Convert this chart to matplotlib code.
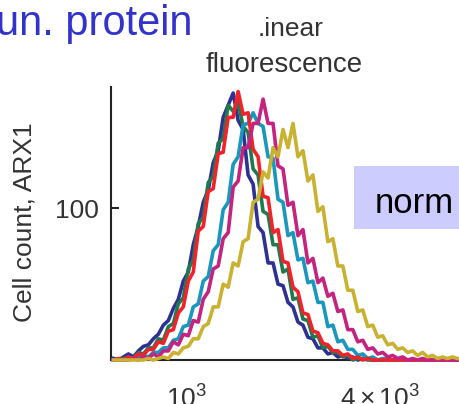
import numpy as np
import matplotlib
matplotlib.use("Agg")
import matplotlib.pyplot as plt
from matplotlib.patches import Rectangle

# ---- data ----
x_lo, x_hi = 580, 7100          # fluorescence range of the histogram bins
n_bins = 70
blue = [1,0,2,4,2,6,9,10,14,17, 23,26,34,40,52,58,76,88,104,112,
        130,138,160,168,176,158,152,122,116,88, 84,64,64,50,49,38,35,25,23,15,
        14,8,8,4,5,2,3,1,2,0, 1,1,0,0,0,1,0,0,0,0, 0,0,0,0,0,0,0,0,0,0]
green = [0,0,1,2,1,5,4,8,8,14, 13,22,24,37,41,60,66,90,94,117,
         121,143,146,168,164,170,154,150,126,122, 98,96,76,76,58,60,40,41,27,26,
         15,16,8,9,5,5,2,3,0,1, 1,0,0,0,0,0,0,0,0,0, 0,0,0,0,0,0,0,0,0,0]
red = [0,1,0,2,1,4,3,7,7,12, 11,19,20,31,35,52,58,85,88,111,
       113,136,137,160,160,177,162,163,139,134, 108,107,84,86,65,64,48,45,31,30,
       19,18,11,10,6,6,3,4,1,2, 0,1,0,0,0,0,0,0,0,0, 0,0,0,0,0,0,0,0,0,0]
teal = [0,0,0,1,1,2,3,2,5,5, 8,8,13,14,22,23,35,37,52,55,
        72,76,99,104,129,134,155,156,163,156, 154,134,133,106,104,82,84,66,67,51,
        52,38,38,22,23,12,13,7,7,3, 4,1,2,0,1,0,0,0,0,0, 0,0,0,0,0,0,0,0,0,0]
magenta = [0,0,0,0,1,0,2,1,4,2, 6,6,12,10,17,16,26,25,40,45,
           60,62,80,84,114,118,140,140,156,156, 172,156,156,128,126,102,104,82,86,64,
           67,51,54,42,44,32,33,20,20,12, 13,7,8,4,5,2,3,1,2,0, 1,0,1,0,0,0,0,0,0,0]
gold = [0,0,0,0,0,0,0,1,0,1, 2,1,5,4,8,9,14,14,22,24,
        35,35,50,48,64,62,78,80,104,106, 124,120,140,134,152,140,156,134,138,118,
        122,98,101,78,80,62,62,46,46,32, 33,22,23,15,16,10,11,7,8,5, 6,3,5,2,3,1,2,1,2,1]
series = [("#2e3192", blue), ("#1f7a4e", green), ("#1a97bd", teal), ("#f2222b", red),
          ("#c4237f", magenta), ("#c9b232", gold)]
y_ticks = [100]
x_ticks = [1000, 4000]
x_ticklabels = [r"$10^3$", r"$4\times10^3$"]

plt.rcParams["mathtext.fontset"] = "custom"
plt.rcParams["mathtext.rm"] = "Liberation Sans"
plt.rcParams["mathtext.it"] = "Liberation Sans"
plt.rcParams["font.family"] = ["Liberation Sans", "DejaVu Sans"]

W, H = 460, 404
fig = plt.figure(figsize=(W / 100, H / 100), dpi=100)

def fx(px):
    return px / W

def fy(py):
    return 1 - py / H

ax = fig.add_axes([fx(111), fy(360), (460 - 111) / W, (360 - 87) / H])
edges = np.geomspace(x_lo, x_hi, n_bins + 1)
centers = np.sqrt(edges[:-1] * edges[1:])
for col, vals in series:
    ax.plot(centers, vals, color=col, lw=2.6, zorder=3, clip_on=False)

ax.set_xscale("log")
ax.set_xlim(x_lo, x_hi)
ax.set_ylim(0, 180)
ax.set_yticks(y_ticks)
ax.set_yticklabels([str(v) for v in y_ticks])
ax.set_xticks(x_ticks)
ax.set_xticklabels(x_ticklabels)
ax.xaxis.set_minor_locator(matplotlib.ticker.NullLocator())
ax.tick_params(axis="y", direction="in", length=6, width=1.5, color="#222222",
               labelsize=19, labelcolor="#333333", pad=9)
ax.tick_params(axis="x", length=0, labelsize=19, labelcolor="#333333", pad=18)
for s in ["top", "right"]:
    ax.spines[s].set_visible(False)
for s in ["left", "bottom"]:
    ax.spines[s].set_color("#222222")
    ax.spines[s].set_linewidth(1.5)

fig.text(fx(25), fy(222), "Cell count, ARX1", rotation=90, ha="center", va="center",
         fontsize=19, color="#333333")
fig.text(fx(258), fy(36), ".inear", ha="left", va="baseline", fontsize=19, color="#333333")
fig.text(fx(284), fy(72), "fluorescence", ha="center", va="baseline", fontsize=20, color="#333333")

fig.text(fx(193), fy(35), "un. protein", ha="right", va="baseline", fontsize=30, color="#3333cc")

fig.patches.append(Rectangle((fx(354), fy(229)), fx(460 - 354) + 0.05, (229 - 166) / H,
                             transform=fig.transFigure, facecolor="#ccccff", edgecolor="none",
                             zorder=5))
fig.text(fx(375), fy(213), "norm", ha="left", va="baseline", fontsize=25, color="black", zorder=6)

fig.savefig("out.png", dpi=100)
